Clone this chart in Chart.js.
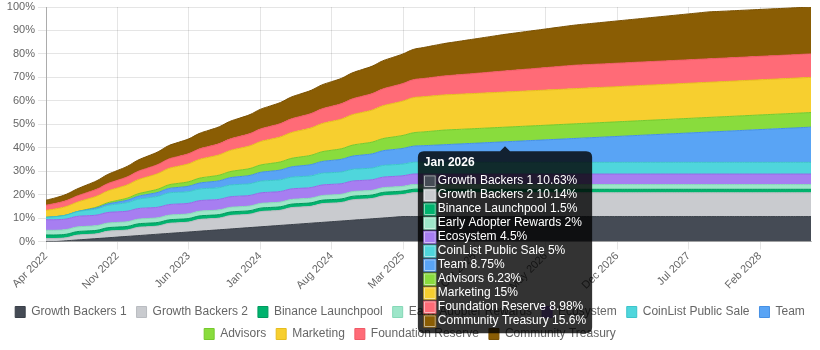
<!DOCTYPE html>
<html>
<head>
<meta charset="utf-8">
<script src="https://cdn.jsdelivr.net/npm/chart.js@4"></script>
<style>
  html, body { margin: 0; padding: 0; background: #fff; }
  #wrap { width: 820px; height: 350px; position: relative; }
</style>
</head>
<body>
<div id="wrap"><canvas id="unlockChart"></canvas></div>
<script>
// ===== Token unlock schedule (cumulative % of supply) =====

const months = [
  "Apr 2022", "May 2022", "Jun 2022", "Jul 2022", "Aug 2022", "Sep 2022", "Oct 2022", "Nov 2022", "Dec 2022",
  "Jan 2023", "Feb 2023", "Mar 2023", "Apr 2023", "May 2023", "Jun 2023", "Jul 2023", "Aug 2023", "Sep 2023", "Oct 2023", "Nov 2023", "Dec 2023",
  "Jan 2024", "Feb 2024", "Mar 2024", "Apr 2024", "May 2024", "Jun 2024", "Jul 2024", "Aug 2024", "Sep 2024", "Oct 2024", "Nov 2024", "Dec 2024",
  "Jan 2025", "Feb 2025", "Mar 2025", "Apr 2025", "May 2025", "Jun 2025", "Jul 2025", "Aug 2025", "Sep 2025", "Oct 2025", "Nov 2025", "Dec 2025",
  "Jan 2026", "Feb 2026", "Mar 2026", "Apr 2026", "May 2026", "Jun 2026", "Jul 2026", "Aug 2026", "Sep 2026", "Oct 2026", "Nov 2026", "Dec 2026",
  "Jan 2027", "Feb 2027", "Mar 2027", "Apr 2027", "May 2027", "Jun 2027", "Jul 2027", "Aug 2027", "Sep 2027", "Oct 2027", "Nov 2027", "Dec 2027",
  "Jan 2028", "Feb 2028", "Mar 2028", "Apr 2028", "May 2028", "Jun 2028", "Jul 2028"
];

const growthBackers1 = [
  0, 0, 0.31, 0.63, 0.94, 1.25, 1.56, 1.88, 2.19, 2.5,
  2.81, 3.13, 3.44, 3.75, 4.06, 4.38, 4.69, 5, 5.31, 5.63,
  5.94, 6.25, 6.56, 6.88, 7.19, 7.5, 7.82, 8.13, 8.44, 8.75,
  9.07, 9.38, 9.69, 10, 10.32, 10.63, 10.63, 10.63, 10.63, 10.63,
  10.63, 10.63, 10.63, 10.63, 10.63, 10.63, 10.63, 10.63, 10.63, 10.63,
  10.63, 10.63, 10.63, 10.63, 10.63, 10.63, 10.63, 10.63, 10.63, 10.63,
  10.63, 10.63, 10.63, 10.63, 10.63, 10.63, 10.63, 10.63, 10.63, 10.63,
  10.63, 10.63, 10.63, 10.63, 10.63, 10.63
];

const growthBackers2 = [
  1.3, 1.3, 1.3, 2.04, 2.04, 2.04, 2.77, 2.77, 2.77, 3.51,
  3.51, 3.51, 4.25, 4.25, 4.25, 4.99, 4.99, 4.99, 5.72, 5.72,
  5.72, 6.46, 6.46, 6.46, 7.2, 7.2, 7.2, 7.93, 7.93, 7.93,
  8.67, 8.67, 8.67, 9.41, 9.41, 9.41, 10.14, 10.14, 10.14, 10.14,
  10.14, 10.14, 10.14, 10.14, 10.14, 10.14, 10.14, 10.14, 10.14, 10.14,
  10.14, 10.14, 10.14, 10.14, 10.14, 10.14, 10.14, 10.14, 10.14, 10.14,
  10.14, 10.14, 10.14, 10.14, 10.14, 10.14, 10.14, 10.14, 10.14, 10.14,
  10.14, 10.14, 10.14, 10.14, 10.14, 10.14
];

const binanceLaunchpool = [
  1.5, 1.5, 1.5, 1.5, 1.5, 1.5, 1.5, 1.5, 1.5, 1.5,
  1.5, 1.5, 1.5, 1.5, 1.5, 1.5, 1.5, 1.5, 1.5, 1.5,
  1.5, 1.5, 1.5, 1.5, 1.5, 1.5, 1.5, 1.5, 1.5, 1.5,
  1.5, 1.5, 1.5, 1.5, 1.5, 1.5, 1.5, 1.5, 1.5, 1.5,
  1.5, 1.5, 1.5, 1.5, 1.5, 1.5, 1.5, 1.5, 1.5, 1.5,
  1.5, 1.5, 1.5, 1.5, 1.5, 1.5, 1.5, 1.5, 1.5, 1.5,
  1.5, 1.5, 1.5, 1.5, 1.5, 1.5, 1.5, 1.5, 1.5, 1.5,
  1.5, 1.5, 1.5, 1.5, 1.5, 1.5
];

const earlyAdopterRewards = [
  2, 2, 2, 2, 2, 2, 2, 2, 2, 2,
  2, 2, 2, 2, 2, 2, 2, 2, 2, 2,
  2, 2, 2, 2, 2, 2, 2, 2, 2, 2,
  2, 2, 2, 2, 2, 2, 2, 2, 2, 2,
  2, 2, 2, 2, 2, 2, 2, 2, 2, 2,
  2, 2, 2, 2, 2, 2, 2, 2, 2, 2,
  2, 2, 2, 2, 2, 2, 2, 2, 2, 2,
  2, 2, 2, 2, 2, 2
];

const ecosystem = [
  4.5, 4.5, 4.5, 4.5, 4.5, 4.5, 4.5, 4.5, 4.5, 4.5,
  4.5, 4.5, 4.5, 4.5, 4.5, 4.5, 4.5, 4.5, 4.5, 4.5,
  4.5, 4.5, 4.5, 4.5, 4.5, 4.5, 4.5, 4.5, 4.5, 4.5,
  4.5, 4.5, 4.5, 4.5, 4.5, 4.5, 4.5, 4.5, 4.5, 4.5,
  4.5, 4.5, 4.5, 4.5, 4.5, 4.5, 4.5, 4.5, 4.5, 4.5,
  4.5, 4.5, 4.5, 4.5, 4.5, 4.5, 4.5, 4.5, 4.5, 4.5,
  4.5, 4.5, 4.5, 4.5, 4.5, 4.5, 4.5, 4.5, 4.5, 4.5,
  4.5, 4.5, 4.5, 4.5, 4.5, 4.5
];

const coinListSale = [
  1, 1.33, 1.67, 2, 2.33, 2.67, 3, 3.33, 3.67, 4,
  4.33, 4.67, 5, 5, 5, 5, 5, 5, 5, 5,
  5, 5, 5, 5, 5, 5, 5, 5, 5, 5,
  5, 5, 5, 5, 5, 5, 5, 5, 5, 5,
  5, 5, 5, 5, 5, 5, 5, 5, 5, 5,
  5, 5, 5, 5, 5, 5, 5, 5, 5, 5,
  5, 5, 5, 5, 5, 5, 5, 5, 5, 5,
  5, 5, 5, 5, 5, 5
];

const team = [
  0, 0, 0, 0, 0.21, 0.42, 0.62, 0.83, 1.04, 1.25,
  1.46, 1.67, 1.87, 2.08, 2.29, 2.5, 2.71, 2.92, 3.12, 3.33,
  3.54, 3.75, 3.96, 4.17, 4.37, 4.58, 4.79, 5, 5.21, 5.42,
  5.62, 5.83, 6.04, 6.25, 6.46, 6.67, 6.87, 7.08, 7.29, 7.5,
  7.71, 7.92, 8.12, 8.33, 8.54, 8.75, 8.96, 9.17, 9.37, 9.58,
  9.79, 10, 10.21, 10.42, 10.62, 10.83, 11.04, 11.25, 11.46, 11.67,
  11.87, 12.08, 12.29, 12.5, 12.71, 12.92, 13.12, 13.33, 13.54, 13.75,
  13.96, 14.17, 14.37, 14.58, 14.79, 15
];

const advisors = [
  0, 0, 0, 0, 0.17, 0.35, 0.52, 0.69, 0.87, 1.04,
  1.21, 1.38, 1.56, 1.73, 1.9, 2.08, 2.25, 2.42, 2.6, 2.77,
  2.94, 3.12, 3.29, 3.46, 3.63, 3.81, 3.98, 4.15, 4.33, 4.5,
  4.67, 4.85, 5.02, 5.19, 5.36, 5.54, 5.71, 5.88, 6.06, 6.23,
  6.23, 6.23, 6.23, 6.23, 6.23, 6.23, 6.23, 6.23, 6.23, 6.23,
  6.23, 6.23, 6.23, 6.23, 6.23, 6.23, 6.23, 6.23, 6.23, 6.23,
  6.23, 6.23, 6.23, 6.23, 6.23, 6.23, 6.23, 6.23, 6.23, 6.23,
  6.23, 6.23, 6.23, 6.23, 6.23, 6.23
];

const marketing = [
  3, 3.33, 3.67, 4, 4.33, 4.67, 5, 5.33, 5.67, 6,
  6.33, 6.67, 7, 7.33, 7.67, 8, 8.33, 8.67, 9, 9.33,
  9.67, 10, 10.33, 10.67, 11, 11.33, 11.67, 12, 12.33, 12.67,
  13, 13.33, 13.67, 14, 14.33, 14.67, 15, 15, 15, 15,
  15, 15, 15, 15, 15, 15, 15, 15, 15, 15,
  15, 15, 15, 15, 15, 15, 15, 15, 15, 15,
  15, 15, 15, 15, 15, 15, 15, 15, 15, 15,
  15, 15, 15, 15, 15, 15
];

const foundationReserve = [
  2.2, 2.35, 2.5, 2.65, 2.8, 2.95, 3.1, 3.25, 3.41, 3.56,
  3.71, 3.86, 4.01, 4.16, 4.31, 4.46, 4.61, 4.76, 4.91, 5.06,
  5.21, 5.36, 5.52, 5.67, 5.82, 5.97, 6.12, 6.27, 6.42, 6.57,
  6.72, 6.87, 7.02, 7.17, 7.32, 7.47, 7.63, 7.78, 7.93, 8.08,
  8.23, 8.38, 8.53, 8.68, 8.83, 8.98, 9.13, 9.28, 9.43, 9.58,
  9.73, 9.89, 10, 10, 10, 10, 10, 10, 10, 10,
  10, 10, 10, 10, 10, 10, 10, 10, 10, 10,
  10, 10, 10, 10, 10, 10
];

const communityTreasury = [
  2.1, 2.4, 2.7, 3, 3.3, 3.6, 3.9, 4.2, 4.5, 4.8,
  5.1, 5.4, 5.7, 6, 6.3, 6.6, 6.9, 7.2, 7.5, 7.8,
  8.1, 8.4, 8.7, 9, 9.3, 9.6, 9.9, 10.2, 10.5, 10.8,
  11.1, 11.4, 11.7, 12, 12.3, 12.6, 12.9, 13.2, 13.5, 13.8,
  14.1, 14.4, 14.7, 15, 15.3, 15.6, 15.82, 16.04, 16.26, 16.48,
  16.7, 16.92, 17.14, 17.36, 17.58, 17.8, 18.02, 18.24, 18.46, 18.68,
  18.9, 19.12, 19.34, 19.56, 19.78, 20, 20, 20, 20, 20,
  20, 20, 20, 20, 20, 20
];

// series in stacking order, bottom to top
const seriesNames = [
  "Growth Backers 1", "Growth Backers 2", "Binance Launchpool", "Early Adopter Rewards",
  "Ecosystem", "CoinList Public Sale", "Team", "Advisors", "Marketing",
  "Foundation Reserve", "Community Treasury"
];
const seriesValues = [
  growthBackers1, growthBackers2, binanceLaunchpool, earlyAdopterRewards,
  ecosystem, coinListSale, team, advisors, marketing,
  foundationReserve, communityTreasury
];
const fillColors = [
  "#454b55", "#c9cbcf", "#00b36e", "#9de6c9", "#a77ef1", "#4fd6dc",
  "#59a4f5", "#89dc3d", "#f7cf2f", "#ff6b77", "#8a5d04"
];
const lineColors = [
  "#3a4049", "#b9bcc1", "#009a5e", "#86d8b7", "#956ae6", "#3cc4ca",
  "#4690e4", "#76c92d", "#e6bd1e", "#f05a67", "#7a5102"
];

const hoverMonth = "Jan 2026";

Chart.defaults.font.family = "Arial, 'Liberation Sans', Helvetica, sans-serif";
Chart.defaults.font.size = 12;
Chart.defaults.color = "#666";

const datasets = seriesNames.map((name, i) => ({
  label: name,
  data: seriesValues[i],
  backgroundColor: fillColors[i],
  borderColor: lineColors[i],
  borderWidth: 1,
  pointRadius: 0,
  pointHoverRadius: 0,
  tension: 0.4,
  fill: i === 0 ? "origin" : "-1"
}));

const chart = new Chart(document.getElementById("unlockChart"), {
  type: "line",
  data: { labels: months, datasets },
  options: {
    responsive: true,
    maintainAspectRatio: false,
    animation: false,
    interaction: { mode: "index", intersect: false },
    layout: { padding: 0 },
    scales: {
      x: {
        grid: { color: "rgba(0,0,0,0.1)", tickLength: 8 },
        border: { color: "rgba(0,0,0,0.25)" },
        ticks: {
          autoSkip: false,
          maxRotation: 45,
          minRotation: 45,
          padding: 0,
          font: { size: 11 },
          callback: (v, i) => (i % 7 === 0 ? months[i] : null)
        },
        afterFit: scale => {
          scale.paddingRight = 9;
          scale.height += 3;
        }
      },
      y: {
        stacked: true,
        min: 0,
        max: 100,
        grid: { color: "rgba(0,0,0,0.1)", tickLength: 8 },
        border: { color: "rgba(0,0,0,0.25)" },
        ticks: { stepSize: 10, font: { size: 11 }, callback: v => v + "%" },
        afterFit: scale => {
          scale.width = 46;
          scale.paddingTop = 7;
        }
      }
    },
    plugins: {
      legend: {
        position: "bottom",
        labels: { boxWidth: 10, boxHeight: 11, padding: 10, color: "#666" }
      },
      tooltip: {
        position: "average",
        xAlign: "center",
        yAlign: "top",
        backgroundColor: "rgba(0,0,0,0.8)",
        padding: 6,
        cornerRadius: 6,
        caretSize: 5,
        titleFont: { size: 12, weight: "bold", lineHeight: 1 },
        bodyFont: { size: 12, lineHeight: 1 },
        titleMarginBottom: 6,
        bodySpacing: 2,
        callbacks: {
          label: ctx => ctx.dataset.label + " " + ctx.raw + "%"
        }
      }
    }
  }
});

// show the tooltip that is open in the screenshot
const hoverIndex = months.indexOf(hoverMonth);
chart.tooltip.setActiveElements(
  chart.data.datasets.map((d, i) => ({ datasetIndex: i, index: hoverIndex })),
  { x: 0, y: 0 }
);
chart.update();
</script>
</body>
</html>
